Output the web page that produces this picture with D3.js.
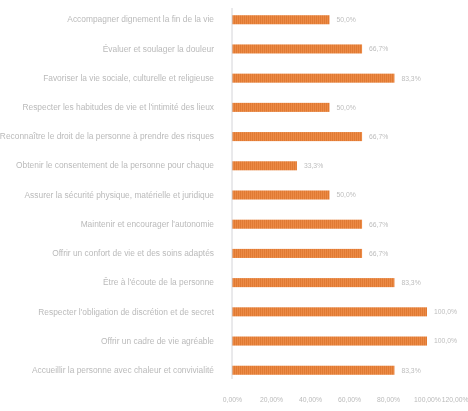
<!DOCTYPE html>
<html>
<head>
<meta charset="utf-8">
<script src="https://cdn.jsdelivr.net/npm/d3@7"></script>
<style>
  html, body { margin: 0; padding: 0; background: #fff; }
  svg { display: block; }
</style>
</head>
<body>
<svg id="chart" width="468" height="411"></svg>
<script>
// Missions de l'établissement, part des réponses
const categories = [
  "Accompagner dignement la fin de la vie",
  "Évaluer et soulager la douleur",
  "Favoriser la vie sociale, culturelle et religieuse",
  "Respecter les habitudes de vie et l'intimité des lieux",
  "Reconnaître le droit de la personne à prendre des risques",
  "Obtenir le consentement de la personne pour chaque",
  "Assurer la sécurité physique, matérielle et juridique",
  "Maintenir et encourager l'autonomie",
  "Offrir un confort de vie et des soins adaptés",
  "Être à l'écoute de la personne",
  "Respecter l'obligation de discrétion et de secret",
  "Offrir un cadre de vie agréable",
  "Accueillir la personne avec chaleur et convivialité"
];
const values = [50.0, 66.7, 83.3, 50.0, 66.7, 33.3, 50.0, 66.7, 66.7, 83.3, 100.0, 100.0, 83.3];
const xTicks = [0, 20, 40, 60, 80, 100, 120];

const svg = d3.select("#chart");
const margin = { top: 5, right: 2, bottom: 26, left: 232 };
const W = 468, H = 411;

const fmt = v => v.toFixed(1).replace(".", ",") + "%";
const fmtTick = v => v.toFixed(2).replace(".", ",") + "%";

const x = d3.scaleLinear().domain([0, 120]).range([margin.left, 466]);
const y = d3.scaleBand().domain(categories).range([margin.top, H - margin.bottom]).paddingInner(0.69).paddingOuter(0.35);

// striped fill for the bars
const defs = svg.append("defs");
const pat = defs.append("pattern").attr("id", "stripes")
  .attr("patternUnits", "userSpaceOnUse").attr("width", 2).attr("height", 4);
pat.append("rect").attr("width", 2).attr("height", 4).attr("fill", "#ec8a45");
pat.append("rect").attr("width", 1).attr("height", 4).attr("fill", "#e07a33");

const soft = defs.append("filter").attr("id", "soft");
soft.append("feGaussianBlur").attr("stdDeviation", 0.4);

// bars
svg.append("g").selectAll("rect").data(values).join("rect")
  .attr("x", x(0))
  .attr("y", (d, i) => y(categories[i]))
  .attr("width", d => x(d) - x(0))
  .attr("height", y.bandwidth())
  .attr("fill", "url(#stripes)");

// value labels
svg.append("g").attr("filter", "url(#soft)").selectAll("text").data(values).join("text")
  .attr("x", d => x(d) + 7)
  .attr("y", (d, i) => y(categories[i]) + y.bandwidth() / 2)
  .attr("dy", "0.35em")
  .attr("font-family", "Liberation Sans, Arial, sans-serif")
  .attr("font-size", 6.8)
  .attr("fill", "#bdbdbd")
  .text(fmt);

// category axis
const yAxis = svg.append("g").attr("transform", `translate(${margin.left},0)`)
  .call(d3.axisLeft(y).tickSize(0).tickPadding(18));
yAxis.select(".domain").attr("stroke", "#d4d4d8").attr("d", `M0,${margin.top + 3}V${H - margin.bottom - 6}`);
yAxis.selectAll("text")
  .attr("font-family", "Liberation Sans, Arial, sans-serif")
  .attr("font-size", 8.4)
  .attr("fill", "#bababa")
  .attr("filter", "url(#soft)");

// value axis
const xAxis = svg.append("g").attr("transform", `translate(0,${H - 14})`)
  .call(d3.axisBottom(x).tickValues(xTicks).tickFormat(fmtTick).tickSize(0).tickPadding(0));
xAxis.select(".domain").remove();
xAxis.selectAll("text")
  .attr("font-family", "Liberation Sans, Arial, sans-serif")
  .attr("font-size", 6.8)
  .attr("fill", "#bababa")
  .attr("filter", "url(#soft)");
// keep the last tick label inside the frame
xAxis.selectAll(".tick").filter(d => d === 120).select("text")
  .attr("text-anchor", "end").attr("dx", 2);
</script>
</body>
</html>
